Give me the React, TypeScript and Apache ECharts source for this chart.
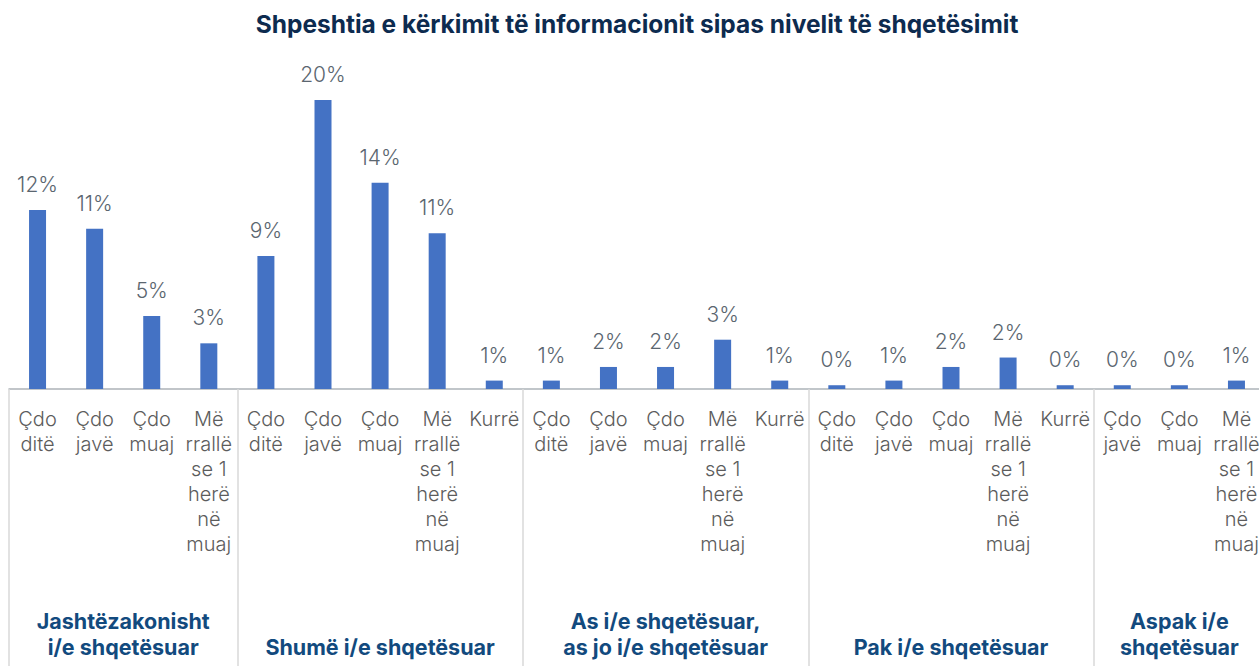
import React, { useEffect, useRef } from "react";
import * as echarts from "echarts";

const titleText = "Shpeshtia e kërkimit të informacionit sipas nivelit të shqetësimit";

const categories = [
  "Çdo\nditë", "Çdo\njavë", "Çdo\nmuaj", "Më\nrrallë\nse 1\nherë\nnë\nmuaj",
  "Çdo\nditë", "Çdo\njavë", "Çdo\nmuaj", "Më\nrrallë\nse 1\nherë\nnë\nmuaj", "Kurrë",
  "Çdo\nditë", "Çdo\njavë", "Çdo\nmuaj", "Më\nrrallë\nse 1\nherë\nnë\nmuaj", "Kurrë",
  "Çdo\nditë", "Çdo\njavë", "Çdo\nmuaj", "Më\nrrallë\nse 1\nherë\nnë\nmuaj", "Kurrë",
  "Çdo\njavë", "Çdo\nmuaj", "Më\nrrallë\nse 1\nherë\nnë\nmuaj",
];

const values = [
  12.34, 11.06, 5.03, 3.15,
  9.17, 19.93, 14.23, 10.74, 0.58,
  0.58, 1.52, 1.52, 3.4, 0.58,
  0.26, 0.58, 1.52, 2.17, 0.26,
  0.26, 0.26, 0.58,
];

const groupNames = [
  "Jashtëzakonisht\ni/e shqetësuar",
  "Shumë i/e shqetësuar",
  "As i/e shqetësuar,\nas jo i/e shqetësuar",
  "Pak i/e shqetësuar",
  "Aspak i/e\nshqetësuar",
];
const groupSizes = [4, 5, 5, 5, 3];

export default function App() {
  const ref = useRef<HTMLDivElement>(null);
  useEffect(() => {
    if (!ref.current) return;
    const chart = echarts.init(ref.current, null, { renderer: "svg" });
    const starts: number[] = [];
    let acc = 0;
    groupSizes.forEach((s) => { starts.push(acc); acc += s; });
    const boundaries = new Set(starts);
    chart.setOption({
      animation: false,
      title: {
        text: titleText,
        left: "center",
        top: 6,
        textStyle: { fontFamily: "Inter", fontWeight: "bold", fontSize: 24.5, color: "#0d2b4f" },
      },
      grid: { left: 9, right: 9, top: 70, bottom: 277, containLabel: false },
      xAxis: {
        type: "category",
        data: categories,
        axisLine: { show: true, lineStyle: { color: "#adb3b8", width: 1.5 } },
        axisTick: {
          show: true,
          interval: (i: number) => boundaries.has(i),
          length: 280,
          lineStyle: { color: "#d9d9d9", width: 1.5 },
        },
        axisLabel: {
          interval: 0,
          margin: 17,
          fontFamily: "Inter",
          fontWeight: 300,
          fontSize: 20,
          lineHeight: 25,
          color: "#5c5c5c",
          align: "center",
        },
      },
      yAxis: { type: "value", min: 0, max: 22, show: false, splitLine: { show: false } },
      series: [
        {
          type: "bar",
          data: values,
          barWidth: 17,
          itemStyle: { color: "#4472c4" },
          label: {
            show: true,
            position: "top",
            distance: 15,
            formatter: (p: any) => Math.round(p.value) + "%",
            fontFamily: "Inter",
            fontWeight: 300,
            fontSize: 21,
            color: "#5b6670",
          },
        },
      ],
    });
    const graphics = groupNames.map((name, g) => {
      const a = chart.convertToPixel({ xAxisIndex: 0 }, starts[g]) as number;
      const b = chart.convertToPixel({ xAxisIndex: 0 }, starts[g] + groupSizes[g] - 1) as number;
      return {
        type: "text",
        x: (a + b) / 2,
        y: 660,
        style: {
          text: name,
          fontFamily: "Inter",
          fontWeight: "bold",
          fontSize: 21.5,
          lineHeight: 26,
          fill: "#124a7e",
          align: "center",
          verticalAlign: "bottom",
        },
      };
    });
    chart.setOption({ graphic: graphics });
    return () => chart.dispose();
  }, []);
  return (
    <div style={{ position: "fixed", left: 0, top: 0, width: 1259, height: 666, overflow: "hidden", background: "#fff" }}>
      <div ref={ref} style={{ width: 1274, height: 666 }} />
    </div>
  );
}
